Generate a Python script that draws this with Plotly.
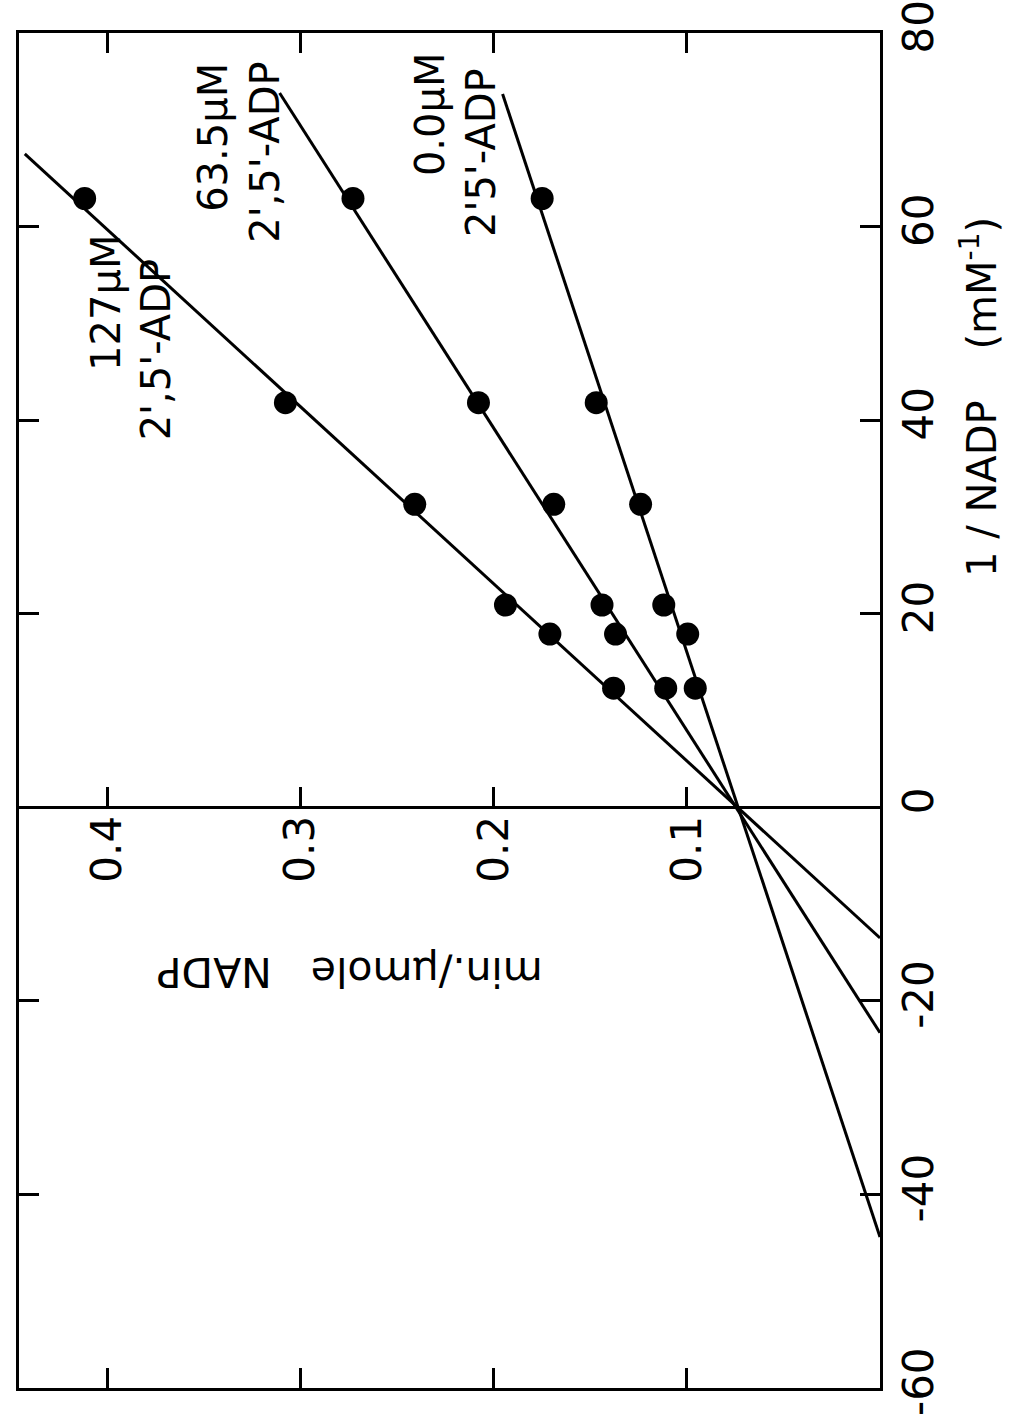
import plotly.graph_objects as go

# ---- data ----
inv_nadp = [62.9, 41.8, 31.3, 20.9, 17.9, 12.3]          # 1/NADP (mM^-1)
rate_127 = [0.412, 0.308, 0.241, 0.194, 0.171, 0.138]      # min./umole NADP, 127 uM 2',5'-ADP
rate_63 = [0.273, 0.208, 0.169, 0.144, 0.137, 0.111]       # 63.5 uM
rate_0 = [0.175, 0.147, 0.124, 0.112, 0.0996, 0.0957]      # 0.0 uM

# fitted lines (end points)
fit127_x = [-13.5, 67.5]
fit127_y = [0.0, 0.443]
fit63_x = [-23.3, 73.8]
fit63_y = [0.0, 0.311]
fit0_x = [-44.4, 73.7]
fit0_y = [0.0, 0.1955]

rate_ticks = [0.1, 0.2, 0.3, 0.4]
rate_ticktext = ["0.1", "0.2", "0.3", "0.4"]
inv_ticks = [-60, -40, -20, 0, 20, 40, 60, 80]
inv_ticktext = ["-60", "-40", "-20", "0", "20", "40", "60", "80"]

label_conc = ["127µM", "63.5µM", "0.0µM"]
label_inhib = ["2',5'-ADP", "2',5'-ADP", "2'5'-ADP"]

FONT = "DejaVu Sans"
X_RANGE = [0.446, 0]
Y_RANGE = [-60, 80]

fig = go.Figure()

# The chart is printed rotated: the rate axis runs horizontally (reversed),
# the 1/NADP axis runs vertically.
for fx, fy in [(fit127_x, fit127_y), (fit63_x, fit63_y), (fit0_x, fit0_y)]:
    fig.add_trace(go.Scatter(x=fy, y=fx, mode="lines", xaxis="x2", yaxis="y",
                             line=dict(color="black", width=3),
                             showlegend=False, hoverinfo="skip"))

for rates in [rate_127, rate_63, rate_0]:
    fig.add_trace(go.Scatter(x=rates, y=inv_nadp, mode="markers", xaxis="x2", yaxis="y",
                             marker=dict(color="black", size=23, line=dict(width=0)),
                             showlegend=False))

# invisible trace for the framing x axis
fig.add_trace(go.Scatter(x=[0.2], y=[0], mode="markers", xaxis="x", yaxis="y",
                         marker=dict(opacity=0), showlegend=False, hoverinfo="skip"))

fig.update_layout(
    width=1036, height=1419,
    margin=dict(l=19, r=156, t=33, b=31, autoexpand=False),
    paper_bgcolor="white", plot_bgcolor="white",
    font=dict(family=FONT, color="black", size=40),
    xaxis=dict(range=X_RANGE, domain=[0, 1], showgrid=False, zeroline=False,
               automargin=False,
               showline=True, linecolor="black", linewidth=3, mirror="ticks",
               ticks="inside", ticklen=20, tickwidth=2.5, tickcolor="black",
               tickvals=rate_ticks, showticklabels=False),
    xaxis2=dict(range=X_RANGE, overlaying="x", anchor="free",
                position=(0 - Y_RANGE[0]) / (Y_RANGE[1] - Y_RANGE[0]),
                side="bottom", showgrid=False, zeroline=False, automargin=False,
                showline=True, linecolor="black", linewidth=2.5,
                ticks="inside", ticklen=20, tickwidth=2.5, tickcolor="black",
                tickvals=rate_ticks, ticktext=rate_ticktext, tickangle=-90,
                ticklabelstandoff=-10,
                tickfont=dict(family=FONT, size=42, color="black")),
    yaxis=dict(range=Y_RANGE, side="right", showgrid=False, zeroline=False,
               automargin=False,
               showline=True, linecolor="black", linewidth=3, mirror="ticks",
               ticks="inside", ticklen=20, tickwidth=2.5, tickcolor="black",
               tickvals=inv_ticks, ticktext=inv_ticktext, tickangle=-90,
               ticklabeloverflow="allow",
               tickfont=dict(family=FONT, size=42, color="black")),
)

# axis titles
fig.add_annotation(text="1 / NADP\u00a0\u00a0\u00a0\u00a0(mM<sup>-1</sup>)",
                   xref="paper", yref="y", x=1.1475, y=42.4, textangle=-90,
                   showarrow=False, font=dict(family=FONT, size=40, color="black"))
fig.add_annotation(text="min./µmole\u00a0\u00a0\u00a0NADP",
                   xref="x2", yref="y", x=0.2746, y=-17.0, textangle=180,
                   showarrow=False, font=dict(family=FONT, size=41, color="black"))

# line labels
conc_pos = [(0.401, 52.1), (0.3456, 69.25), (0.2332, 71.6)]
inhib_pos = [(0.3746, 47.3), (0.3187, 67.7), (0.2067, 67.7)]
for txt, (px, py) in zip(label_conc, conc_pos):
    fig.add_annotation(text=txt, xref="x2", yref="y", x=px, y=py, textangle=-90,
                       showarrow=False, font=dict(family=FONT, size=40, color="black"))
for txt, (px, py) in zip(label_inhib, inhib_pos):
    fig.add_annotation(text=txt, xref="x2", yref="y", x=px, y=py, textangle=-90,
                       showarrow=False, font=dict(family=FONT, size=40, color="black"))

fig.write_html("out.html")
